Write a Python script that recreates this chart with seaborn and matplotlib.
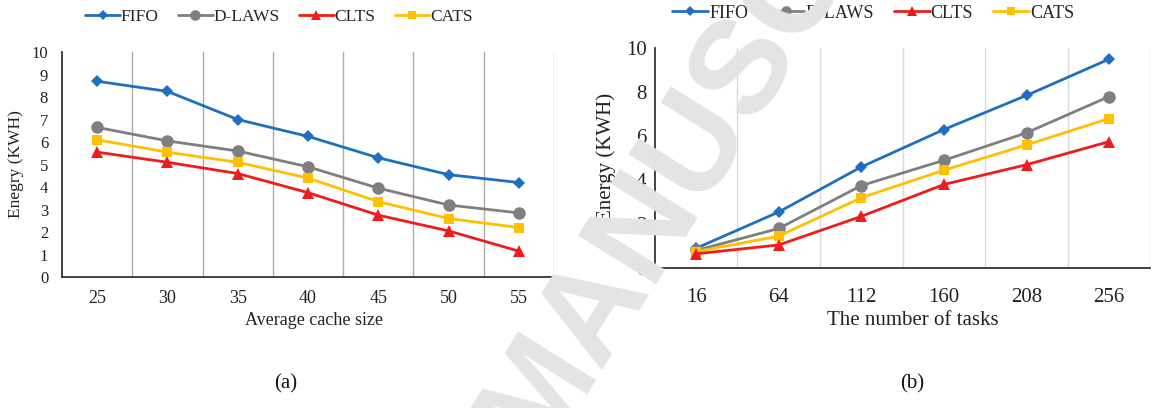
import matplotlib
matplotlib.use("Agg")
import matplotlib.pyplot as plt
from matplotlib.lines import Line2D
import seaborn as sns
import pandas as pd

sns.set_theme(style="white")
plt.rcParams["font.family"] = ["Liberation Serif", "DejaVu Serif"]

methods = ["FIFO", "D-LAWS", "CLTS", "CATS"]
colors = {"FIFO": "#1f6fc1", "D-LAWS": "#7f7f7f", "CLTS": "#ee1c1c", "CATS": "#ffc000"}
markers = {"FIFO": "D", "D-LAWS": "o", "CLTS": "^", "CATS": "s"}
msizes = {"FIFO": 6.5, "D-LAWS": 9, "CLTS": 8.5, "CATS": 7.5}

# (a) energy vs. average cache size
cache_sizes = ["25", "30", "35", "40", "45", "50", "55"]
fifo_a = [8.7, 8.25, 7.0, 6.25, 5.3, 4.55, 4.2]
dlaws_a = [6.65, 6.05, 5.6, 4.9, 3.95, 3.2, 2.85]
clts_a = [5.55, 5.1, 4.6, 3.75, 2.75, 2.05, 1.15]
cats_a = [6.1, 5.55, 5.1, 4.4, 3.35, 2.6, 2.2]

# (b) energy vs. number of tasks
task_counts = ["16", "64", "112", "160", "208", "256"]
fifo_b = [0.9, 2.55, 4.6, 6.3, 7.85, 9.5]
dlaws_b = [0.8, 1.8, 3.75, 4.9, 6.15, 7.8]
clts_b = [0.65, 1.05, 2.35, 3.8, 4.7, 5.75]
cats_b = [0.75, 1.45, 3.2, 4.45, 5.6, 6.8]


def long_table(cats, series):
    rows = []
    for name, vals in series.items():
        for c, v in zip(cats, vals):
            rows.append({"x": c, "energy": v, "method": name})
    return pd.DataFrame(rows)


fig = plt.figure(figsize=(11.55, 4.08), dpi=100)
ax_a = fig.add_axes([0.0537, 0.321, 0.4260, 0.5515])
ax_b = fig.add_axes([0.567, 0.343, 0.429, 0.539])

df_a = long_table(cache_sizes, {"FIFO": fifo_a, "D-LAWS": dlaws_a, "CLTS": clts_a, "CATS": cats_a})
df_b = long_table(task_counts, {"FIFO": fifo_b, "D-LAWS": dlaws_b, "CLTS": clts_b, "CATS": cats_b})


def draw(ax, df, cats, yticks, tick_fs, grid_color, legend_anchor, legend_fs):
    for m in ["FIFO", "D-LAWS", "CATS", "CLTS"]:
        sub = df[df["method"] == m]
        sns.lineplot(data=sub, x="x", y="energy", ax=ax, color=colors[m],
                     marker=markers[m], markersize=msizes[m], markeredgewidth=0,
                     linewidth=2.0, sort=False, zorder=3)
    n = len(cats)
    ax.set_xlim(-0.5, n - 0.5)
    ax.set_ylim(0, 10)
    ax.set_yticks(yticks)
    ax.set_xticks(range(n))
    ax.set_xticklabels(cats)
    for b in range(1, n + 1):
        ax.axvline(b - 0.5, color=grid_color, lw=1.0, zorder=1)
    for s in ["top", "right"]:
        ax.spines[s].set_visible(False)
    for s in ["left", "bottom"]:
        ax.spines[s].set_color("#333333")
        ax.spines[s].set_linewidth(1.3)
    ax.tick_params(axis="both", length=0, labelsize=tick_fs, colors="#222222")
    ax.set_xlabel("")
    ax.set_ylabel("")
    handles = [Line2D([], [], color=colors[m], marker=markers[m],
                      markersize=msizes[m] * 0.85, markeredgewidth=0, lw=2.0, label=m)
               for m in methods]
    fig.legend(handles=handles, loc="center", bbox_to_anchor=legend_anchor, ncol=4,
               frameon=False, fontsize=legend_fs, handlelength=2.0, handletextpad=0.05,
               columnspacing=1.1)


draw(ax_a, df_a, cache_sizes, range(0, 11), 12, "#ababab", (0.2416, 0.958), 12.5)
draw(ax_b, df_b, task_counts, range(0, 11, 2), 15, "#d9d9d9", (0.756, 0.968), 13)

for lab in ax_a.get_xticklabels():
    lab.set_fontsize(13)
ax_a.tick_params(axis="x", pad=9)
ax_a.tick_params(axis="y", pad=10)
ax_b.tick_params(axis="x", pad=14)
ax_b.tick_params(axis="y", pad=6)

fig.text(0.014, 0.598, "Enegry (KWH)", rotation=90, ha="center", va="center", fontsize=12.5, color="#222222")
fig.text(0.525, 0.615, "Energy (KWH)", rotation=90, ha="center", va="center", fontsize=15, color="#222222")
fig.text(0.272, 0.215, "Average cache size", ha="center", va="center", fontsize=13, color="#222222")
fig.text(0.790, 0.215, "The number of tasks", ha="center", va="center", fontsize=15, color="#222222")
fig.text(0.247, 0.06, "(a)", ha="center", va="center", fontsize=15, color="#111111")
fig.text(0.790, 0.06, "(b)", ha="center", va="center", fontsize=15, color="#111111")

# light diagonal watermark over the figure
fig.text(0.466, -0.125, "MANUSCRIPT", rotation=58, rotation_mode="anchor", ha="left", va="baseline",
         fontsize=96, family="Liberation Sans", fontweight="bold", color="#e4e4e4", zorder=10)

fig.savefig("out.png", dpi=100, facecolor="white")
